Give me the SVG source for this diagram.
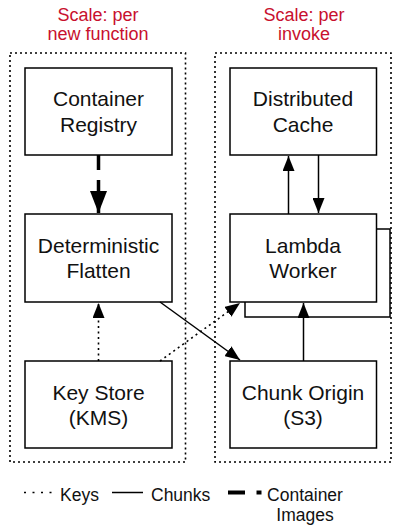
<svg xmlns="http://www.w3.org/2000/svg" width="393" height="525" viewBox="0 0 393 525">
<style>
  .box { fill: #fff; stroke: #000; stroke-width: 1.5; }
  .zone { fill: none; stroke: #000; stroke-width: 1.6; stroke-dasharray: 2 3; }
  .t { font-family: "Liberation Sans", Arial, sans-serif; font-size: 21px; fill: #111; text-anchor: middle; }
  .title { font-family: "Liberation Sans", Arial, sans-serif; font-size: 18px; fill: #c8102e; text-anchor: middle; }
  .leg { font-family: "Liberation Sans", Arial, sans-serif; font-size: 17.5px; fill: #111; }
  .solid { fill: none; stroke: #000; stroke-width: 1.5; }
  .dot { fill: none; stroke: #000; stroke-width: 1.6; stroke-dasharray: 2 3.5; }
  .thick { fill: none; stroke: #000; stroke-width: 3.5; }
</style>
<defs>
  <marker id="arr" viewBox="0 0 15 12" markerWidth="15" markerHeight="12" refX="15" refY="6" orient="auto" markerUnits="userSpaceOnUse">
    <path d="M0,0 L15,6 L0,12 z" fill="#000"/>
  </marker>
  <marker id="arrBig" viewBox="0 0 22 17" markerWidth="22" markerHeight="17" refX="22" refY="8.5" orient="auto" markerUnits="userSpaceOnUse">
    <path d="M0,0 L22,8.5 L0,17 z" fill="#000"/>
  </marker>
</defs>

<g id="titles">
  <text class="title" x="98" y="21">Scale: per</text>
  <text class="title" x="98" y="40">new function</text>
  <text class="title" x="304" y="21">Scale: per</text>
  <text class="title" x="304" y="40">invoke</text>
</g>

<g id="zones">
  <rect class="zone" x="10" y="53" width="175.5" height="409"/>
  <rect class="zone" x="215" y="53" width="176" height="409"/>
</g>

<g id="lambda-back">
  <rect class="box" x="245" y="229" width="145" height="88"/>
</g>

<g id="container-registry">
  <rect class="box" x="25" y="68" width="147" height="87"/>
  <text class="t" x="98.5" y="106">Container</text>
  <text class="t" x="98.5" y="131.5">Registry</text>
</g>
<g id="deterministic-flatten">
  <rect class="box" x="25" y="214" width="147" height="88"/>
  <text class="t" x="98.5" y="252.5">Deterministic</text>
  <text class="t" x="98.5" y="278">Flatten</text>
</g>
<g id="key-store">
  <rect class="box" x="25" y="361" width="147" height="87"/>
  <text class="t" x="98.5" y="399.5">Key Store</text>
  <text class="t" x="98.5" y="425">(KMS)</text>
</g>
<g id="distributed-cache">
  <rect class="box" x="230" y="68" width="146.5" height="87"/>
  <text class="t" x="303" y="106">Distributed</text>
  <text class="t" x="303" y="131.5">Cache</text>
</g>
<g id="lambda-worker">
  <rect class="box" x="230" y="214" width="146.5" height="88"/>
  <text class="t" x="303" y="252.5">Lambda</text>
  <text class="t" x="303" y="278">Worker</text>
</g>
<g id="chunk-origin">
  <rect class="box" x="230" y="361" width="146.5" height="87"/>
  <text class="t" x="303" y="399.5">Chunk Origin</text>
  <text class="t" x="303" y="425">(S3)</text>
</g>

<g id="connectors">
  <line class="thick" x1="98.5" y1="155" x2="98.5" y2="213" stroke-dasharray="15 10 40" marker-end="url(#arrBig)"/>
  <line class="dot" x1="98.5" y1="361" x2="98.5" y2="303" marker-end="url(#arr)"/>
  <line class="solid" x1="160" y1="302" x2="240" y2="360" marker-end="url(#arr)"/>
  <line class="dot" x1="160" y1="361" x2="240" y2="303" marker-end="url(#arr)"/>
  <line class="solid" x1="288.5" y1="214" x2="288.5" y2="156" marker-end="url(#arr)"/>
  <line class="solid" x1="318.5" y1="155" x2="318.5" y2="213" marker-end="url(#arr)"/>
  <line class="solid" x1="303.5" y1="361" x2="303.5" y2="303" marker-end="url(#arr)"/>
</g>

<g id="legend">
  <line x1="24" y1="492.5" x2="52" y2="492.5" stroke="#000" stroke-width="1.6" stroke-dasharray="2 6.5"/>
  <text class="leg" x="60" y="501">Keys</text>
  <line class="solid" x1="112" y1="492.5" x2="143" y2="492.5"/>
  <text class="leg" x="151" y="501">Chunks</text>
  <line x1="228" y1="492.5" x2="245" y2="492.5" stroke="#000" stroke-width="4"/>
  <line x1="256.5" y1="492.5" x2="261.5" y2="492.5" stroke="#000" stroke-width="4"/>
  <text class="leg" x="305" y="501" text-anchor="middle">Container</text>
  <text class="leg" x="305" y="521" text-anchor="middle">Images</text>
</g>
</svg>
